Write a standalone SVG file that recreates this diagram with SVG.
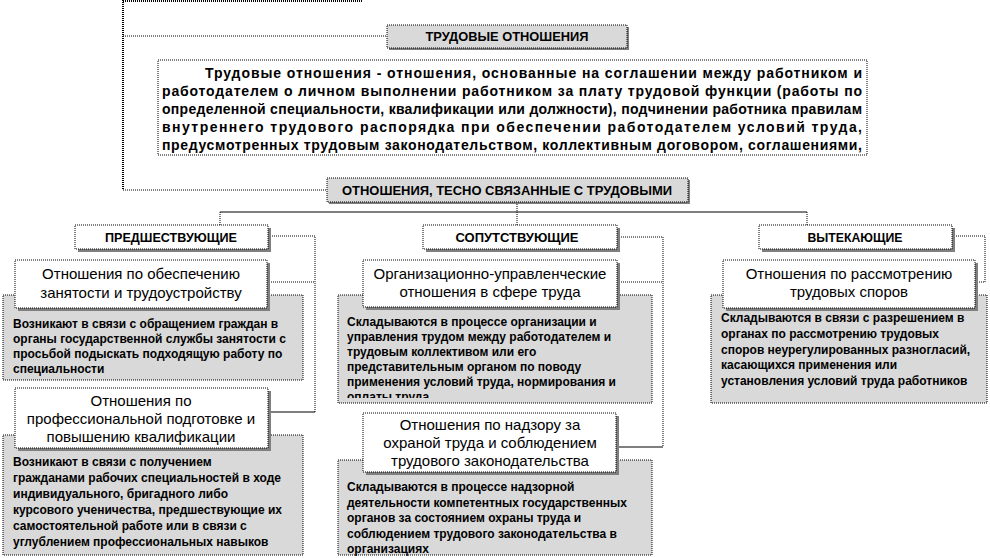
<svg xmlns="http://www.w3.org/2000/svg" width="990" height="558" viewBox="0 0 990 558">
<style>
text{font-family:"Liberation Sans",Arial,"DejaVu Sans",sans-serif;fill:#000}
.dot{fill:none;stroke:#000;stroke-width:1;stroke-dasharray:1 1}
.dotb{fill:none;stroke:#000;stroke-width:2;stroke-dasharray:1 1}
.sol{fill:none;stroke:#000;stroke-width:1.2}
.sh{fill:#7f7f7f}
.hdr{fill:#d9d9d9;stroke:#000;stroke-width:1;stroke-dasharray:1 1}
.hw{fill:#fff;stroke:#000;stroke-width:1;stroke-dasharray:1 1}
.wb{fill:#fff;stroke:#000;stroke-width:1;stroke-dasharray:1 1}
.gb{fill:#d9d9d9;stroke:#000;stroke-width:1;stroke-dasharray:1 1}
.ht{font-size:13px;font-weight:bold;text-anchor:middle}
.tt{font-size:15px;text-anchor:middle}
.gt{font-size:12px;font-weight:bold}
.pt{font-size:14px;font-weight:bold}
</style>
<defs>
<clipPath id="clipOrg"><rect x="338" y="295" width="314" height="103"/></clipPath>
</defs>
<g id="connectors">
<path class="dotb" d="M123,1 H363 M123,0 V190"/>
<path class="dot" d="M123,36 H387 M123,190 H327"/>
<path class="dot" d="M517,202 V225 M220,212 V225 M807,212 V225"/>
<path class="sol" d="M220,212 H807"/>
<path class="dot" d="M268,236 H315 V412 M267,282 H315"/>
<path class="sol" d="M268,412 H315"/>
<path class="dot" d="M617,237 H663 V447 M617,282 H663"/>
<path class="sol" d="M616,447 H663"/>
<path class="dot" d="M952,236 H985 V282 H975"/>
</g>
<g id="labour-relations">
<rect class="sh" x="389" y="27" width="240" height="23"/>
<rect class="hdr" x="387" y="25" width="240" height="23"/>
<text class="ht" x="507" y="41" textLength="163" lengthAdjust="spacingAndGlyphs">ТРУДОВЫЕ ОТНОШЕНИЯ</text>
</g>
<g id="definition">
<rect class="wb" x="158" y="60" width="709" height="95"/>
<text class="pt" x="205" y="78" textLength="657" lengthAdjust="spacing">Трудовые отношения - отношения, основанные на соглашении между работником и</text>
<text class="pt" x="162" y="96" textLength="700" lengthAdjust="spacing">работодателем о личном выполнении работником за плату трудовой функции (работы по</text>
<text class="pt" x="162" y="114" textLength="700" lengthAdjust="spacing">определенной специальности, квалификации или должности), подчинении работника правилам</text>
<text class="pt" x="162" y="132" textLength="700" lengthAdjust="spacing">внутреннего трудового распорядка при обеспечении работодателем условий труда,</text>
<text class="pt" x="162" y="150" textLength="700" lengthAdjust="spacing">предусмотренных трудовым законодательством, коллективным договором, соглашениями,</text>
</g>
<g id="closely-related">
<rect class="sh" x="329" y="180" width="361" height="24"/>
<rect class="hdr" x="327" y="178" width="361" height="24"/>
<text class="ht" x="507" y="195" textLength="330" lengthAdjust="spacingAndGlyphs">ОТНОШЕНИЯ, ТЕСНО СВЯЗАННЫЕ С ТРУДОВЫМИ</text>
</g>
<g id="preceding">
<rect class="sh" x="78" y="228" width="193" height="24"/>
<rect class="hw" x="75" y="225" width="193" height="24"/>
<text class="ht" x="171" y="242" textLength="132" lengthAdjust="spacingAndGlyphs">ПРЕДШЕСТВУЮЩИЕ</text>
</g>
<g id="accompanying">
<rect class="sh" x="426" y="228" width="194" height="24"/>
<rect class="hw" x="423" y="225" width="194" height="24"/>
<text class="ht" x="517" y="242" textLength="123" lengthAdjust="spacingAndGlyphs">СОПУТСТВУЮЩИЕ</text>
</g>
<g id="following">
<rect class="sh" x="762" y="228" width="193" height="24"/>
<rect class="hw" x="759" y="225" width="193" height="24"/>
<text class="ht" x="855" y="242" textLength="95" lengthAdjust="spacingAndGlyphs">ВЫТЕКАЮЩИЕ</text>
</g>
<g id="employment">
<rect class="gb" x="3" y="295" width="300" height="85"/>
<text class="gt" x="13" y="328">Возникают в связи с обращением граждан в</text>
<text class="gt" x="13" y="343">органы государственной службы занятости с</text>
<text class="gt" x="13" y="358">просьбой подыскать подходящую работу по</text>
<text class="gt" x="13" y="373">специальности</text>
<rect class="sh" x="18" y="263" width="252" height="48"/>
<rect class="wb" x="15" y="260" width="252" height="48"/>
<text class="tt" x="141" y="279">Отношения по обеспечению</text>
<text class="tt" x="141" y="298">занятости и трудоустройству</text>
</g>
<g id="training">
<rect class="gb" x="3" y="435" width="300" height="120"/>
<text class="gt" x="13" y="466">Возникают в связи с получением</text>
<text class="gt" x="13" y="482">гражданами рабочих специальностей в ходе</text>
<text class="gt" x="13" y="498">индивидуального, бригадного либо</text>
<text class="gt" x="13" y="514">курсового ученичества, предшествующие их</text>
<text class="gt" x="13" y="530">самостоятельной работе или в связи с</text>
<text class="gt" x="13" y="546">углублением профессиональных навыков</text>
<rect class="sh" x="18" y="391" width="253" height="60"/>
<rect class="wb" x="15" y="388" width="253" height="60"/>
<text class="tt" x="141" y="406">Отношения по</text>
<text class="tt" x="141" y="424">профессиональной подготовке и</text>
<text class="tt" x="141" y="442">повышению квалификации</text>
</g>
<g id="organizational">
<rect class="gb" x="338" y="295" width="314" height="108"/>
<g clip-path="url(#clipOrg)">
<text class="gt" x="347" y="326">Складываются в процессе организации и</text>
<text class="gt" x="347" y="341">управления трудом между работодателем и</text>
<text class="gt" x="347" y="356">трудовым коллективом или его</text>
<text class="gt" x="347" y="371">представительным органом по поводу</text>
<text class="gt" x="347" y="386">применения условий труда, нормирования и</text>
<text class="gt" x="347" y="401">оплаты труда</text>
</g>
<rect class="sh" x="366" y="263" width="254" height="47"/>
<rect class="wb" x="363" y="260" width="254" height="47"/>
<text class="tt" x="490" y="279">Организационно-управленческие</text>
<text class="tt" x="490" y="297">отношения в сфере труда</text>
</g>
<g id="supervision">
<rect class="gb" x="338" y="460" width="314" height="95"/>
<text class="gt" x="347" y="491">Складываются в процессе надзорной</text>
<text class="gt" x="347" y="507">деятельности компетентных государственных</text>
<text class="gt" x="347" y="522">органов за состоянием охраны труда и</text>
<text class="gt" x="347" y="538">соблюдением трудового законодательства в</text>
<text class="gt" x="347" y="553">организациях</text>
<rect class="sh" x="366" y="416" width="253" height="59"/>
<rect class="wb" x="363" y="413" width="253" height="59"/>
<text class="tt" x="490" y="430">Отношения по надзору за</text>
<text class="tt" x="490" y="448">охраной труда и соблюдением</text>
<text class="tt" x="490" y="466">трудового законодательства</text>
</g>
<g id="disputes">
<rect class="gb" x="711" y="295" width="276" height="108"/>
<text class="gt" x="721" y="322">Складываются в связи с разрешением в</text>
<text class="gt" x="721" y="338">органах по рассмотрению трудовых</text>
<text class="gt" x="721" y="354">споров неурегулированных разногласий,</text>
<text class="gt" x="721" y="369">касающихся применения или</text>
<text class="gt" x="721" y="385">установления условий труда работников</text>
<rect class="sh" x="726" y="263" width="252" height="48"/>
<rect class="wb" x="723" y="260" width="252" height="48"/>
<text class="tt" x="849" y="279">Отношения по рассмотрению</text>
<text class="tt" x="849" y="297">трудовых споров</text>
</g>
</svg>
